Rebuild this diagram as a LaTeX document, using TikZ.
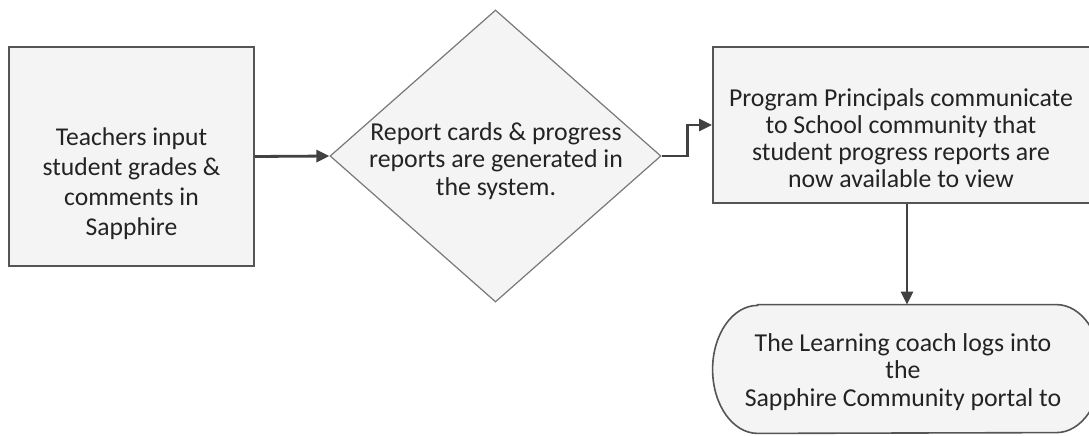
\documentclass[tikz,border=0pt]{standalone}
\usepackage{fontspec}
\setmainfont{Carlito}
\usepackage{tikz}
\usetikzlibrary{arrows.meta,positioning,calc,shapes.geometric}
\definecolor{boxfill}{RGB}{244,244,244}
\definecolor{boxline}{RGB}{85,85,85}
\definecolor{dialine}{RGB}{120,120,120}
\definecolor{arrowgray}{RGB}{65,65,65}
\definecolor{inkgray}{RGB}{35,35,35}
\tikzset{
  procbox/.style={rectangle, draw=boxline, fill=boxfill, line width=1pt, inner sep=0pt},
  decide/.style={diamond, draw=dialine, fill=boxfill, line width=0.6pt, inner sep=0pt, aspect=1.13},
  termin/.style={rectangle, draw=none, inner sep=0pt, minimum width=194pt, minimum height=64pt},
  stadline/.style={draw=boxline, fill=boxfill, line width=0.8pt},
  boxtext/.style={align=center, text=inkgray, font=\fontsize{12.9}{13.6}\selectfont},
  bigtext/.style={align=center, text=inkgray, font=\fontsize{12.8}{15}\selectfont},
  flowarrow/.style={-{Triangle[length=6.5pt,width=6pt]}, line width=1.4pt, arrowgray}
}
\begin{document}
\begin{tikzpicture}[x=0.5pt,y=-0.5pt]
  \clip (0,0) rectangle (1089,435);
  \fill[white] (0,0) rectangle (1089,435);

  % shapes
  \node[procbox, minimum width=122.5pt, minimum height=109.5pt] (teach) at (131.5,156.5) {};
  \node[decide, minimum width=165.5pt, minimum height=146pt] (report) at (495.5,156) {};
  \node[procbox, minimum width=194pt, minimum height=78pt] (princ) at (907,125) {};
  \node[termin] (coach) at (907,369) {};
  \draw[stadline] ($(coach.north west)+(45,0)$) -- ($(coach.north east)+(-45,0)$)
    arc[start angle=-90, end angle=90, x radius=45, y radius=64]
    -- ($(coach.south west)+(45,0)$)
    arc[start angle=90, end angle=270, x radius=45, y radius=64] -- cycle;

  % texts
  \node[bigtext] (teachtxt) at (131.5,184) {Teachers input\\student grades \&\\comments in\\Sapphire};
  \node[boxtext] (reporttxt) at (496,161) {Report cards \& progress\\reports are generated in\\the system.};
  \node[boxtext] (princtxt) at (901,138) {Program Principals communicate\\to School community that\\student progress reports are\\now available to view};
  \node[boxtext] (coachtxt) at (903,372) {The Learning coach logs into\\the\\Sapphire Community portal to};

  % connectors
  \draw[flowarrow] (teach.east) -- (report.west);
  \draw[flowarrow] (report.east) -- ++(26,0) |- (princ.west);
  \draw[flowarrow] (princ.south) -- (coach.north);
\end{tikzpicture}
\end{document}
